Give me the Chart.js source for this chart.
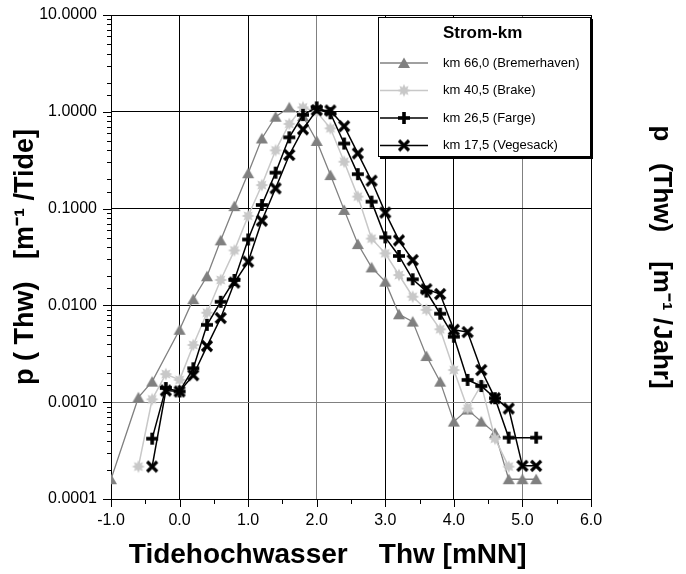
<!DOCTYPE html>
<html>
<head>
<meta charset="utf-8">
<script src="https://cdn.jsdelivr.net/npm/chart.js@4.4.1/dist/chart.umd.min.js"></script>
<style>
  html, body { margin: 0; padding: 0; background: #fff; }
</style>
</head>
<body>
<canvas id="myChart" width="686" height="574"></canvas>
<script>
// Tidehochwasser Thw [mNN] and p(Thw) for each Strom-km station
const thwBremerhaven = [-1.0, -0.6, -0.4, 0.0, 0.2, 0.4, 0.6, 0.8, 1.0, 1.2, 1.4, 1.6, 1.8, 2.0, 2.2, 2.4, 2.6, 2.8, 3.0, 3.2, 3.4, 3.6, 3.8, 4.0, 4.2, 4.4, 4.6, 4.8, 5.0, 5.2];
const pBremerhaven = [0.00016, 0.00112, 0.00163, 0.0056, 0.0116, 0.020, 0.047, 0.106, 0.232, 0.53, 0.89, 1.11, 0.90, 0.50, 0.222, 0.097, 0.043, 0.0247, 0.0176, 0.0081, 0.0068, 0.0030, 0.00163, 0.00063, 0.00084, 0.00063, 0.00048, 0.00016, 0.00016, 0.00016];

const thwBrake = [-0.6, -0.4, -0.2, 0.0, 0.2, 0.4, 0.6, 0.8, 1.0, 1.2, 1.4, 1.6, 1.8, 2.0, 2.2, 2.4, 2.6, 2.8, 3.0, 3.2, 3.4, 3.6, 3.8, 4.0, 4.2, 4.4, 4.6, 4.8];
const pBrake = [0.000216, 0.00107, 0.00195, 0.0017, 0.0039, 0.0084, 0.0183, 0.037, 0.084, 0.175, 0.40, 0.75, 1.11, 1.0, 0.675, 0.305, 0.133, 0.049, 0.0345, 0.0206, 0.0123, 0.0090, 0.00567, 0.00215, 0.00086, 0.00151, 0.00042, 0.000216];

const thwFarge = [-0.4, -0.2, 0.0, 0.2, 0.4, 0.6, 0.8, 1.0, 1.2, 1.4, 1.6, 1.8, 2.0, 2.2, 2.4, 2.6, 2.8, 3.0, 3.2, 3.4, 3.6, 3.8, 4.0, 4.2, 4.4, 4.6, 4.8, 5.2];
const pFarge = [0.00042, 0.0014, 0.00129, 0.00224, 0.0063, 0.0109, 0.0183, 0.048, 0.109, 0.235, 0.545, 0.93, 1.11, 0.965, 0.47, 0.227, 0.118, 0.0505, 0.0324, 0.0186, 0.0139, 0.0082, 0.00475, 0.0017, 0.00147, 0.0011, 0.00043, 0.00043];

const thwVegesack = [-0.4, -0.2, 0.0, 0.2, 0.4, 0.6, 0.8, 1.0, 1.2, 1.4, 1.6, 1.8, 2.0, 2.2, 2.4, 2.6, 2.8, 3.0, 3.2, 3.4, 3.6, 3.8, 4.0, 4.2, 4.4, 4.6, 4.8, 5.0, 5.2];
const pVegesack = [0.000216, 0.00132, 0.00129, 0.0019, 0.0038, 0.0074, 0.0172, 0.0283, 0.075, 0.162, 0.358, 0.66, 1.04, 1.03, 0.71, 0.372, 0.194, 0.091, 0.047, 0.0294, 0.0147, 0.0131, 0.0056, 0.0053, 0.00215, 0.0011, 0.00086, 0.00022, 0.00022];

const seriesLabels = ["km 66,0 (Bremerhaven)", "km 40,5 (Brake)", "km 26,5 (Farge)", "km 17,5 (Vegesack)"];
const legendTitle = "Strom-km";

const FONT = "Arial, 'Liberation Sans', sans-serif";

function toPoints(xs, ys) {
  return xs.map((x, i) => ({ x: x, y: ys[i] }));
}

// small canvases used as point markers
function makeMarker(kind, color) {
  const c = document.createElement("canvas");
  c.width = 14;
  c.height = 14;
  const g = c.getContext("2d");
  g.fillStyle = color;
  g.strokeStyle = color;
  if (kind === "triangle") {
    g.beginPath();
    g.moveTo(7, 1.5);
    g.lineTo(13, 12);
    g.lineTo(1, 12);
    g.closePath();
    g.fill();
  } else if (kind === "star") {
    g.beginPath();
    for (let i = 0; i < 16; i++) {
      const r = i % 2 === 0 ? 6.5 : 3.6;
      const a = (i * Math.PI) / 8 - Math.PI / 2;
      const px = 7 + r * Math.cos(a);
      const py = 7 + r * Math.sin(a);
      if (i === 0) g.moveTo(px, py);
      else g.lineTo(px, py);
    }
    g.closePath();
    g.fill();
  } else if (kind === "plus") {
    g.fillRect(5.2, 1, 3.6, 12);
    g.fillRect(1, 5.2, 12, 3.6);
  } else {
    g.lineWidth = 3.2;
    g.beginPath();
    g.moveTo(2, 2);
    g.lineTo(12, 12);
    g.moveTo(12, 2);
    g.lineTo(2, 12);
    g.stroke();
  }
  return c;
}

function isDecade(v) {
  const l = Math.log10(v);
  return Math.abs(l - Math.round(l)) < 1e-6;
}

// legend box + minor tick marks
const extras = {
  id: "extras",
  afterDatasetsDraw(chart) {
    const c = chart.ctx;
    const area = chart.chartArea;
    const xs = chart.scales.x;
    const ys = chart.scales.y;
    c.save();

    // tick marks outside the axes
    c.strokeStyle = "#000";
    c.lineWidth = 1;
    c.beginPath();
    for (let v = -1; v <= 6.001; v += 0.5) {
      const px = Math.round(xs.getPixelForValue(v)) + 0.5;
      const len = Math.abs(v - Math.round(v)) < 1e-6 ? 8 : 5;
      c.moveTo(px, area.bottom);
      c.lineTo(px, area.bottom + len);
    }
    ys.ticks.forEach((t) => {
      const py = Math.round(ys.getPixelForValue(t.value)) + 0.5;
      const len = isDecade(t.value) ? 8 : 4;
      c.moveTo(area.left, py);
      c.lineTo(area.left - len, py);
    });
    c.stroke();

    // legend box
    const bx = area.right - 213, by = area.top + 2, bw = 213, bh = 140;
    c.fillStyle = "#000";
    c.fillRect(bx + 2, by + 2, bw, bh);
    c.fillStyle = "#fff";
    c.fillRect(bx, by, bw, bh);
    c.strokeStyle = "#000";
    c.strokeRect(bx + 0.5, by + 0.5, bw - 1, bh - 1);

    c.fillStyle = "#000";
    c.font = "bold 17px " + FONT;
    c.textAlign = "left";
    c.textBaseline = "middle";
    c.fillText(legendTitle, bx + 65, by + 16);

    c.font = "13px " + FONT;
    chart.data.datasets.forEach((ds, i) => {
      const yy = by + 46 + i * 27.5;
      c.strokeStyle = ds.borderColor;
      c.lineWidth = ds.borderWidth;
      c.beginPath();
      c.moveTo(bx + 2, yy);
      c.lineTo(bx + 50, yy);
      c.stroke();
      c.drawImage(ds.pointStyle, bx + 26 - 7, yy - 7);
      c.fillStyle = "#000";
      c.fillText(ds.label, bx + 65, yy);
    });
    c.restore();
  },
};

const styles = [
  { color: "#808080", marker: "triangle", width: 1.3 },
  { color: "#c8c8c8", marker: "star", width: 1.5 },
  { color: "#000000", marker: "plus", width: 1.5 },
  { color: "#000000", marker: "cross", width: 1.5 },
];
const seriesData = [
  toPoints(thwBremerhaven, pBremerhaven),
  toPoints(thwBrake, pBrake),
  toPoints(thwFarge, pFarge),
  toPoints(thwVegesack, pVegesack),
];

const datasets = seriesData.map((d, i) => ({
  label: seriesLabels[i],
  data: d,
  borderColor: styles[i].color,
  backgroundColor: styles[i].color,
  borderWidth: styles[i].width,
  pointStyle: makeMarker(styles[i].marker, styles[i].color),
  pointRadius: 7,
  tension: 0,
  fill: false,
  order: 4 - i,
}));

// keep the plot frame where the reference has it
function fitVertical(width) {
  return (s) => {
    s.width = width;
    s.paddingTop = 0;
    s.paddingBottom = 0;
  };
}

const ctx = document.getElementById("myChart").getContext("2d");

new Chart(ctx, {
  type: "line",
  data: { datasets: datasets },
  options: {
    responsive: false,
    animation: false,
    layout: { padding: { top: 15 } },
    plugins: {
      legend: { display: false },
      tooltip: { enabled: false },
    },
    scales: {
      x: {
        type: "linear",
        min: -1,
        max: 6,
        afterFit: (s) => { s.height = 75; },
        ticks: {
          stepSize: 0.5,
          autoSkip: false,
          maxRotation: 0,
          padding: 12,
          color: "#000",
          font: { family: FONT, size: 16 },
          callback: (v) => (Math.abs(v - Math.round(v)) < 1e-6 ? Number(v).toFixed(1) : ""),
        },
        grid: {
          drawTicks: false,
          lineWidth: 1,
          color: (c) => {
            const v = c.tick ? c.tick.value : 0;
            if (Math.abs(v - Math.round(v)) > 1e-6) return "rgba(0,0,0,0)";
            return Math.round(v) === 2 || Math.round(v) === 5 ? "#808080" : "#000";
          },
        },
        border: { color: "#000", width: 1 },
        title: {
          display: true,
          text: "Tidehochwasser    Thw [mNN]      ",
          color: "#000",
          font: { family: FONT, size: 28, weight: "bold" },
          padding: { top: 0, bottom: 2 },
        },
      },
      y: {
        type: "logarithmic",
        position: "left",
        min: 0.0001,
        max: 10,
        afterFit: fitVertical(111),
        ticks: {
          autoSkip: false,
          padding: 14,
          color: "#000",
          font: { family: FONT, size: 16 },
          callback: (v) => (isDecade(v) ? Number(v).toFixed(4) : ""),
        },
        grid: {
          drawTicks: false,
          color: (c) => {
            const v = c.tick ? c.tick.value : 1;
            if (!isDecade(v)) return "rgba(0,0,0,0)";
            return Math.abs(v - 0.001) < 1e-9 ? "#808080" : "#000";
          },
        },
        border: { color: "#000", width: 1 },
        title: {
          display: true,
          text: "p ( Thw)   [m\u207B\u00B9 /Tide]",
          color: "#000",
          font: { family: FONT, size: 27, weight: "bold" },
          padding: { top: 9, bottom: 0 },
        },
      },
      y2: {
        type: "logarithmic",
        position: "right",
        min: 0.0001,
        max: 10,
        afterFit: fitVertical(95),
        ticks: { display: false },
        grid: { display: false, drawTicks: false },
        border: { display: false },
        title: {
          display: true,
          text: "p   (Thw)    [m\u207B\u00B9 /Jahr]",
          color: "#000",
          font: { family: FONT, size: 26, weight: "bold" },
          padding: { top: 9, bottom: 0 },
        },
      },
    },
  },
  plugins: [extras],
});
</script>
</body>
</html>
